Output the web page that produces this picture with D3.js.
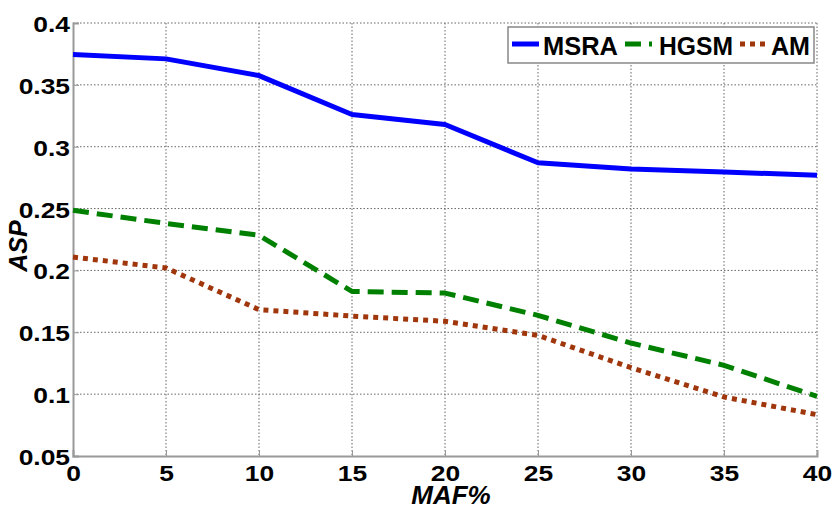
<!DOCTYPE html>
<html><head><meta charset="utf-8">
<script src="https://cdn.jsdelivr.net/npm/d3@7"></script>
<style>body{margin:0;background:#fff}svg{display:block}text{font-family:"Liberation Sans",Arial,sans-serif;font-weight:bold;fill:#000}</style>
</head><body><svg id="c" width="832" height="509"></svg>
<script>
const xValues = [0, 5, 10, 15, 20, 25, 30, 35, 40];
const msra = [0.3745, 0.371, 0.3575, 0.326, 0.318, 0.287, 0.282, 0.2795, 0.277];
const hgsm = [0.2486, 0.238, 0.2284, 0.183, 0.1817, 0.1637, 0.1413, 0.1233, 0.0982];
const am   = [0.2108, 0.202, 0.1683, 0.1631, 0.1589, 0.1475, 0.1214, 0.0977, 0.0834];
const xTicks = [0, 5, 10, 15, 20, 25, 30, 35, 40];
const yTicks = [0.05, 0.1, 0.15, 0.2, 0.25, 0.3, 0.35, 0.4];
const yTickLabels = ["0.05", "0.1", "0.15", "0.2", "0.25", "0.3", "0.35", "0.4"];
const seriesNames = ["MSRA", "HGSM", "AM"];

const svg = d3.select("#c");
const L = 73, R = 817, T = 23, B = 456;
const x = d3.scaleLinear().domain([0, 40]).range([L, R]);
const y = d3.scaleLinear().domain([0.05, 0.4]).range([B, T]);

// grid
const g = svg.append("g");
g.selectAll(".vg").data(xTicks.filter(d => d > 0)).enter().append("line")
  .attr("x1", d => x(d)).attr("x2", d => x(d)).attr("y1", T).attr("y2", B)
  .attr("stroke", "#666").attr("stroke-width", 1).attr("stroke-dasharray", "1.5,2");
g.selectAll(".hg").data(yTicks.filter(d => d > 0.05)).enter().append("line")
  .attr("x1", L).attr("x2", R).attr("y1", d => y(d)).attr("y2", d => y(d))
  .attr("stroke", "#666").attr("stroke-width", 1).attr("stroke-dasharray", "1.5,2");

// axes (left & bottom solid)
const xAxis = d3.axisBottom(x).tickValues(xTicks).tickSize(-6).tickFormat(d3.format("d"));
const yAxis = d3.axisLeft(y).tickValues(yTicks).tickSize(-6).tickFormat((d, i) => yTickLabels[i]);
const gx = svg.append("g").attr("transform", `translate(0,${B})`).call(xAxis);
const gy = svg.append("g").attr("transform", `translate(${L},0)`).call(yAxis);
[gx, gy].forEach(a => {
  a.select(".domain").attr("stroke", "#999").attr("stroke-width", 2);
  a.selectAll(".tick line").attr("stroke", "#999").attr("stroke-width", 1);
  a.selectAll("text").style("font-size", "22px").style("font-weight", "bold")
    .style("font-family", '"Liberation Sans",Arial,sans-serif').attr("fill", "#000");
});
gx.selectAll(".tick text").attr("dy", null).attr("y", null).attr("transform", "translate(0,25) scale(1.2,1)");
gy.selectAll(".tick text").attr("dy", null).attr("x", null).attr("transform", "translate(-3,8.5) scale(1.2,1)");

// lines
const line = d3.line().x((d, i) => x(xValues[i])).y(d => y(d));
const styles = [
  {data: msra, color: "#0000ff", dash: null},
  {data: hgsm, color: "#008000", dash: "16,8"},
  {data: am, color: "#a0360c", dash: "5,5"}
];
styles.forEach(s => {
  svg.append("path").datum(s.data).attr("d", line)
    .attr("fill", "none").attr("stroke", s.color).attr("stroke-width", 5)
    .attr("stroke-dasharray", s.dash).attr("stroke-linejoin", "round");
});

// axis titles
svg.append("text").attr("x", 451).attr("y", 504).attr("text-anchor", "middle")
  .style("font-size", "26px").style("font-style", "italic").text("MAF%");
svg.append("text").attr("transform", "translate(27,246) rotate(-90)").attr("text-anchor", "middle")
  .style("font-size", "25px").style("font-style", "italic").text("ASP");

// legend
const lg = svg.append("g");
lg.append("rect").attr("x", 508).attr("y", 27).attr("width", 306).attr("height", 36)
  .attr("fill", "#fff").attr("stroke", "#888").attr("stroke-width", 1.5);
const legendItems = [
  {x1: 512, x2: 539, tx: 543, tw: 75},
  {x1: 625, x2: 652, tx: 659, tw: 74},
  {x1: 740, x2: 767, tx: 771, tw: 39}
];
legendItems.forEach((it, i) => {
  lg.append("line").attr("x1", it.x1).attr("x2", it.x2).attr("y1", 44).attr("y2", 44)
    .attr("stroke", styles[i].color).attr("stroke-width", 5).attr("stroke-dasharray", styles[i].dash);
  lg.append("text").attr("x", it.tx).attr("y", 55).style("font-size", "26px")
    .attr("textLength", it.tw).attr("lengthAdjust", "spacingAndGlyphs").text(seriesNames[i]);
});
</script></body></html>
